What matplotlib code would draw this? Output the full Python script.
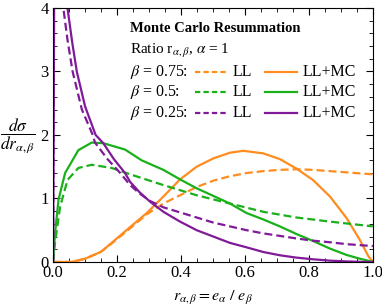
import numpy as np
import matplotlib.pyplot as plt
from matplotlib.ticker import MultipleLocator
from matplotlib.lines import Line2D

plt.rcParams['font.family'] = ['Liberation Serif', 'DejaVu Serif']
plt.rcParams['mathtext.fontset'] = 'stix'

# values
r_ll_075 = [0.0, 0.058, 0.1, 0.15, 0.183, 0.241, 0.293, 0.345, 0.397, 0.449, 0.501, 0.553,
            0.605, 0.657, 0.709, 0.761, 0.813, 0.866, 0.92, 1.0]
ll_075 = [0.0, 0.0, 0.05, 0.16, 0.29, 0.53, 0.75, 0.92, 1.05, 1.18, 1.28, 1.35,
          1.40, 1.43, 1.45, 1.46, 1.45, 1.43, 1.41, 1.38]
r_mc_075 = [0.0, 0.058, 0.1, 0.15, 0.183, 0.241, 0.293, 0.345, 0.397, 0.449, 0.501, 0.553,
            0.595, 0.657, 0.709, 0.761, 0.813, 0.866, 0.918, 0.959, 0.985, 1.0]
mc_075 = [0.0, 0.0, 0.05, 0.16, 0.30, 0.55, 0.77, 1.03, 1.30, 1.50, 1.63, 1.72,
          1.75, 1.71, 1.62, 1.47, 1.29, 1.03, 0.69, 0.35, 0.1, 0.0]

r_ll_05 = [0.0, 0.006, 0.022, 0.045, 0.079, 0.121, 0.183, 0.241, 0.345, 0.449, 0.553,
           0.657, 0.761, 0.866, 1.0]
ll_05 = [0.0, 0.3, 0.87, 1.29, 1.48, 1.53, 1.48, 1.38, 1.21, 1.05, 0.92,
         0.79, 0.70, 0.635, 0.56]
r_mc_05 = [0.0, 0.006, 0.017, 0.0375, 0.079, 0.121, 0.157, 0.225, 0.277, 0.345, 0.397,
           0.449, 0.501, 0.553, 0.605, 0.657, 0.709, 0.761, 0.813, 0.866, 0.918, 0.96, 1.0]
mc_05 = [0.0, 0.45, 0.98, 1.40, 1.76, 1.88, 1.87, 1.77, 1.60, 1.45, 1.30,
         1.16, 1.04, 0.92, 0.77, 0.67, 0.56, 0.44, 0.33, 0.21, 0.11, 0.05, 0.0]

r_ll_025 = [0.0, 0.003, 0.032, 0.045, 0.061, 0.09, 0.124, 0.131, 0.17, 0.21, 0.241, 0.27,
            0.303, 0.345, 0.397, 0.449, 0.501, 0.553, 0.605, 0.657, 0.709, 0.761, 0.813,
            0.866, 0.918, 1.0]
ll_025 = [0.0, 5.0, 4.0, 3.5, 3.0, 2.4, 2.0, 1.88, 1.62, 1.40, 1.21, 1.08,
          0.96, 0.86, 0.78, 0.70, 0.62, 0.56, 0.50, 0.45, 0.41, 0.37, 0.335,
          0.31, 0.28, 0.25]
r_mc_025 = [0.0, 0.004, 0.045, 0.06, 0.074, 0.1, 0.133, 0.157, 0.19, 0.225, 0.241, 0.27,
            0.303, 0.345, 0.397, 0.449, 0.501, 0.553, 0.605, 0.657, 0.709, 0.761, 0.813,
            0.866, 0.92, 0.97, 1.0]
mc_025 = [0.0, 5.0, 4.0, 3.45, 3.0, 2.45, 2.0, 1.87, 1.62, 1.40, 1.26, 1.10,
          0.95, 0.79, 0.635, 0.50, 0.40, 0.30, 0.23, 0.157, 0.105, 0.068, 0.042,
          0.02, 0.008, 0.0, 0.0]

orange = '#ff8c1f'
green = '#1ab01a'
purple = '#801a99'
dash = (0, (3.6, 1.8))

fig = plt.figure(figsize=(3.82, 3.06), dpi=100)
ax = fig.add_axes([0.139, 0.144, 0.837, 0.83])

lw = 1.6
ax.plot(r_ll_075, ll_075, color=orange, lw=lw, ls=dash)
ax.plot(r_mc_075, mc_075, color=orange, lw=lw)
ax.plot(r_ll_05, ll_05, color=green, lw=lw, ls=dash)
ax.plot(r_mc_05, mc_05, color=green, lw=lw)
ax.plot(r_ll_025, ll_025, color=purple, lw=lw, ls=dash)
ax.plot(r_mc_025, mc_025, color=purple, lw=lw)

ax.set_xlim(0, 1)
ax.set_ylim(0, 4)
ax.xaxis.set_minor_locator(MultipleLocator(0.05))
ax.yaxis.set_minor_locator(MultipleLocator(0.2))
ax.set_xticks([0, 0.2, 0.4, 0.6, 0.8, 1.0])
ax.set_xticklabels(['0.0', '0.2', '0.4', '0.6', '0.8', '1.0'])
ax.set_yticks([0, 1, 2, 3, 4])
ax.set_yticklabels(['0', '1', '2', '3', '4'])
ax.tick_params(which='both', direction='in', top=True, right=True, labelsize=12)
ax.tick_params(axis='x', pad=2)
ax.tick_params(axis='y', pad=3)
ax.tick_params(which='major', length=5, width=0.8)
ax.tick_params(which='minor', length=3, width=0.6)

ax.set_xlabel(r'$r_{\alpha,\beta} = e_\alpha\ /\ e_\beta$', fontsize=11.5, labelpad=6)
fig.text(0.047, 0.555, r'$\dfrac{d\sigma}{dr_{\alpha,\beta}}$', fontsize=12.5,
         ha='center', va='center')

# legend block
tx = 0.24
ax.text(tx, 0.92, 'Monte Carlo Resummation', transform=ax.transAxes,
        fontsize=10.5, fontweight='bold', va='center')
ax.text(tx, 0.83, r'Ratio r$_{\alpha,\beta}$, $\alpha$ = 1', transform=ax.transAxes,
        fontsize=11, va='center')
rows = [(r'$\beta$ = 0.75:', orange), (r'$\beta$ = 0.5:', green), (r'$\beta$ = 0.25:', purple)]
ys = [0.748, 0.669, 0.587]
for (lab, c), yy in zip(rows, ys):
    ax.text(tx, yy, lab, transform=ax.transAxes, fontsize=11.5, va='center')
    ax.add_line(Line2D([0.444, 0.544], [yy, yy], transform=ax.transAxes,
                       color=c, lw=lw, ls=(0, (2.4, 1.4))))
    ax.text(0.56, yy, 'LL', transform=ax.transAxes, fontsize=11.5, va='center')
    ax.add_line(Line2D([0.662, 0.762], [yy, yy], transform=ax.transAxes,
                       color=c, lw=lw))
    ax.text(0.78, yy, 'LL+MC', transform=ax.transAxes, fontsize=11.5, va='center')

fig.savefig('out.png', dpi=100)
